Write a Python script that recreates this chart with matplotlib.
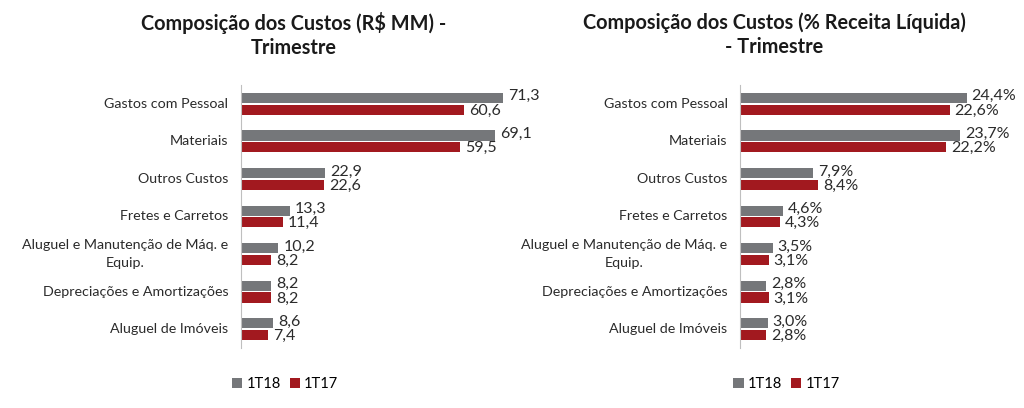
import matplotlib.pyplot as plt
import matplotlib.transforms as mtransforms
import numpy as np

categories = ["Gastos com Pessoal", "Materiais", "Outros Custos", "Fretes e Carretos",
              "Aluguel e Manutenção de Máq. e\nEquip.", "Depreciações e Amortizações",
              "Aluguel de Imóveis"]
mm_1t18 = [71.3, 69.1, 22.9, 13.3, 10.2, 8.2, 8.6]
mm_1t17 = [60.6, 59.5, 22.6, 11.4, 8.2, 8.2, 7.4]
pct_1t18 = [24.4, 23.7, 7.9, 4.6, 3.5, 2.8, 3.0]
pct_1t17 = [22.6, 22.2, 8.4, 4.3, 3.1, 3.1, 2.8]
series_names = ["1T18", "1T17"]

GRAY = "#75777a"
RED = "#a2191f"
TXT = "#2b2b2b"

plt.rcParams['font.family'] = ['Lato', 'DejaVu Sans']

fig = plt.figure(figsize=(10.24, 4.08), dpi=100)
renderer = fig.canvas.get_renderer()
PAD = 9 / 72  # inches between axis line and category labels


def cat_label(ax, yi, cat):
    # each line is its own text, the lines centred on each other
    lines = cat.split('\n')
    base = mtransforms.blended_transform_factory(ax.transAxes, ax.transData)
    step = 13.5  # points between lines
    first = None
    for i, line in enumerate(lines):
        dy = ((len(lines) - 1) / 2 - i) * step / 72
        if first is None:
            tr = base + mtransforms.ScaledTranslation(-PAD, dy, fig.dpi_scale_trans)
            first = ax.text(0, yi, line, transform=tr, ha='right', va='center',
                            fontsize=10.3, color=TXT)
            w = first.get_window_extent(renderer=renderer).width / fig.dpi
        else:
            tr = base + mtransforms.ScaledTranslation(-PAD - w / 2, dy, fig.dpi_scale_trans)
            ax.text(0, yi, line, transform=tr, ha='center', va='center',
                    fontsize=10.3, color=TXT)


def draw(ax, a, b, fmt, xmax, title, title_x):
    y = np.arange(len(categories))
    h = 0.27
    ax.barh(y - 0.155, a, height=h, color=GRAY, label=series_names[0])
    ax.barh(y + 0.155, b, height=h, color=RED, label=series_names[1])
    for yi, v in zip(y, a):
        ax.text(v + xmax * 0.018, yi - 0.2, fmt(v), va='center', ha='left', fontsize=11.5, color=TXT)
    for yi, v in zip(y, b):
        ax.text(v + xmax * 0.018, yi + 0.18, fmt(v), va='center', ha='left', fontsize=11.5, color=TXT)
    ax.set_xlim(0, xmax)
    ax.set_ylim(len(categories) - 0.5, -0.5)
    ax.set_yticks([])
    for yi, cat in zip(y, categories):
        cat_label(ax, yi, cat)
    ax.set_xticks([])
    for s in ['top', 'right', 'bottom']:
        ax.spines[s].set_visible(False)
    ax.spines['left'].set_color('#bfbfbf')
    fig.text(title_x, 0.915, title, ha='center', va='center', fontsize=14.3,
             fontweight='bold', color='#1a1a1a', linespacing=1.25)
    ax.legend(loc='upper left', bbox_to_anchor=(-0.075, -0.06), ncol=2, frameon=False,
              fontsize=10.5, handlelength=0.7, handleheight=0.7, columnspacing=0.6,
              handletextpad=0.3)


ax1 = fig.add_axes([241 / 1024, 1 - 348 / 408, 294 / 1024, 263 / 408])
draw(ax1, mm_1t18, mm_1t17, lambda v: f"{v:.1f}".replace('.', ','), 80,
     "Composição dos Custos (R$ MM) -\nTrimestre", 294 / 1024)

ax2 = fig.add_axes([740 / 1024, 1 - 348 / 408, 262 / 1024, 263 / 408])
draw(ax2, pct_1t18, pct_1t17, lambda v: f"{v:.1f}%".replace('.', ','), 28.2,
     "Composição dos Custos (% Receita Líquida)\n- Trimestre", 774 / 1024)

fig.savefig("out.png", dpi=100)
